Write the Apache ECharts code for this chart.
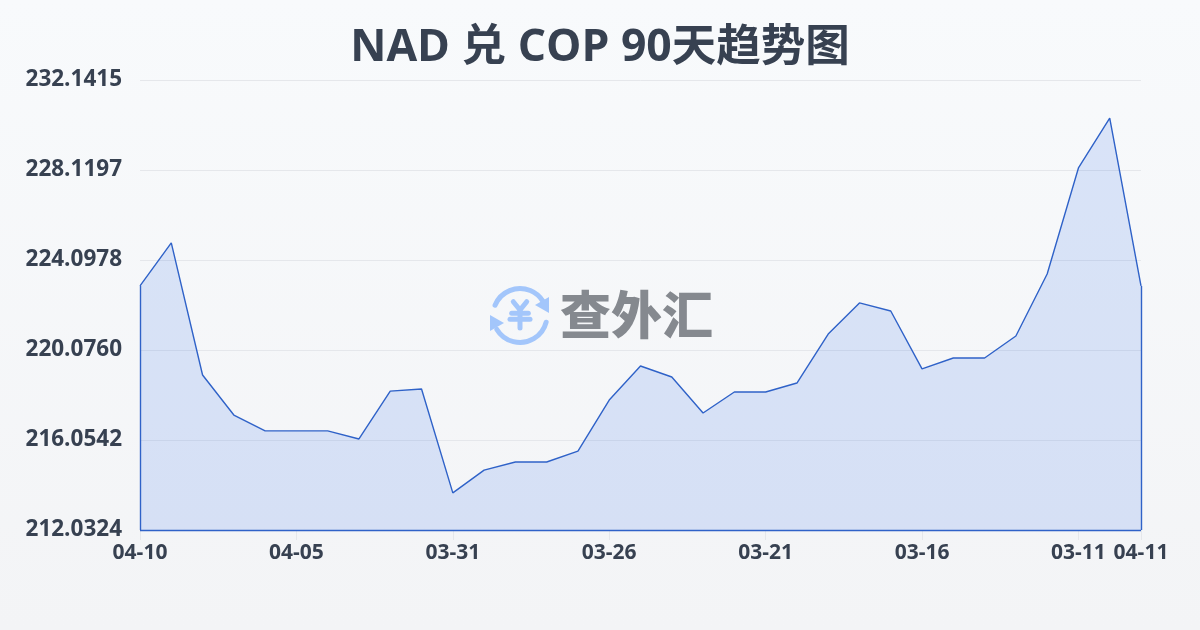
<!DOCTYPE html>
<html>
<head>
<meta charset="utf-8">
<style>html,body{margin:0;padding:0;width:1200px;height:630px;overflow:hidden;background:#f5f6f9}#c{width:1200px;height:630px}</style>
<script src="https://cdn.jsdelivr.net/npm/echarts@6/dist/echarts.min.js"></script>
</head>
<body>
<div id="c"></div>
<script>
const titleText = 'NAD 兑 COP 90天趋势图';
const watermarkText = '查外汇';
const categories = ['04-10','04-09','04-08','04-07','04-06','04-05','04-04','04-03','04-02','04-01','03-31','03-30','03-29','03-28','03-27','03-26','03-25','03-24','03-23','03-22','03-21','03-20','03-19','03-18','03-17','03-16','03-15','03-14','03-13','03-12','03-11','03-10','04-11'];
const rates = [222.94,224.86,218.96,217.17,216.46,216.46,216.46,216.10,218.24,218.33,213.69,214.71,215.07,215.07,215.56,217.84,219.36,218.87,217.26,218.20,218.20,218.60,220.79,222.18,221.82,219.23,219.72,219.72,220.70,223.47,228.21,230.44,222.94];
const yTicks = [212.0324,216.0542,220.0760,224.0978,228.1197,232.1415];
const yMin = yTicks[0], yMax = yTicks[yTicks.length-1];
const lastIdx = categories.length-1;
const chart = echarts.init(document.getElementById('c'), null, {renderer:'canvas'});
const showIdx = (i)=> i%5===0 || i===lastIdx;
const darkText = '#374151';
const latinCjk = '"Open Sans","Noto Sans CJK SC",sans-serif';
const iconBlue = '#a3c6fb';
const iconStroke = {stroke:iconBlue,lineWidth:5,fill:null,lineCap:'round',lineJoin:'round'};
chart.setOption({
  animation:false,
  backgroundColor:{type:'linear',x:0,y:0,x2:0,y2:1,colorStops:[{offset:0,color:'#f8fafc'},{offset:1,color:'#f3f4f6'}]},
  title:{text:titleText,left:'center',top:21,textStyle:{fontFamily:latinCjk,fontSize:44.5,fontWeight:'bold',color:darkText}},
  grid:{left:140,right:59,top:80,bottom:100,containLabel:false},
  xAxis:{type:'category',boundaryGap:false,data:categories,
    axisLine:{show:false},
    axisTick:{show:true,length:10,interval:(i)=>showIdx(i),lineStyle:{color:'#e5e7eb'}},
    axisLabel:{interval:(i)=>showIdx(i),hideOverlap:false,showMinLabel:true,showMaxLabel:true,margin:13,fontFamily:latinCjk,fontSize:21,fontWeight:'bold',color:darkText},
    splitLine:{show:false}},
  yAxis:{type:'value',min:yMin,max:yMax,
    axisLine:{show:false},
    axisLabel:{customValues:yTicks,margin:18,fontFamily:latinCjk,fontSize:22.5,fontWeight:'bold',color:darkText,formatter:(v)=>v.toFixed(4),padding:[0,0,4,0]},
    axisTick:{show:false,customValues:yTicks},
    splitLine:{show:true,lineStyle:{color:'#e5e7eb',width:1}}},
  series:[{
    type:'line',data:rates,symbol:'none',smooth:false,
    lineStyle:{color:'#2f62c8',width:1.4},
    areaStyle:{color:'rgba(37,99,235,0.14)',opacity:1,origin:'start'},
    z:3,
    markLine:{silent:true,symbol:'none',label:{show:false},lineStyle:{color:'#2f62c8',width:1.4,type:'solid'},animation:false,
      data:[
        [{coord:[0,yMin]},{coord:[0,rates[0]]}],
        [{coord:[lastIdx,yMin]},{coord:[lastIdx,rates[lastIdx]]}],
        [{coord:[0,yMin]},{coord:[lastIdx,yMin]}]
      ]}
  }],
  graphic:[{type:'group',left:490,top:286,silent:true,z:10,children:[
    {type:'arc',shape:{cx:30,cy:29.5,r:27,startAngle:-2.75,endAngle:-0.55},style:iconStroke},
    {type:'arc',shape:{cx:30,cy:29.5,r:27,startAngle:0.25,endAngle:2.6},style:iconStroke},
    {type:'polygon',shape:{points:[[59,11],[59,27],[45,19]]},style:{fill:iconBlue}},
    {type:'polygon',shape:{points:[[0,29],[0,45],[14,37]]},style:{fill:iconBlue}},
    {type:'polyline',shape:{points:[[23.3,15.7],[30,24],[36.7,15.7]]},style:iconStroke},
    {type:'polyline',shape:{points:[[30,24],[30,42]]},style:iconStroke},
    {type:'polyline',shape:{points:[[21.7,27.3],[38.3,27.3]]},style:iconStroke},
    {type:'polyline',shape:{points:[[20,33.3],[40,33.3]]},style:iconStroke},
    {type:'text',style:{text:watermarkText,x:70,y:29,verticalAlign:'middle',fontSize:51,fontWeight:900,fontFamily:'"Noto Sans CJK SC",sans-serif',fill:'#85898f'}}
  ]}]
});
</script>
</body>
</html>
